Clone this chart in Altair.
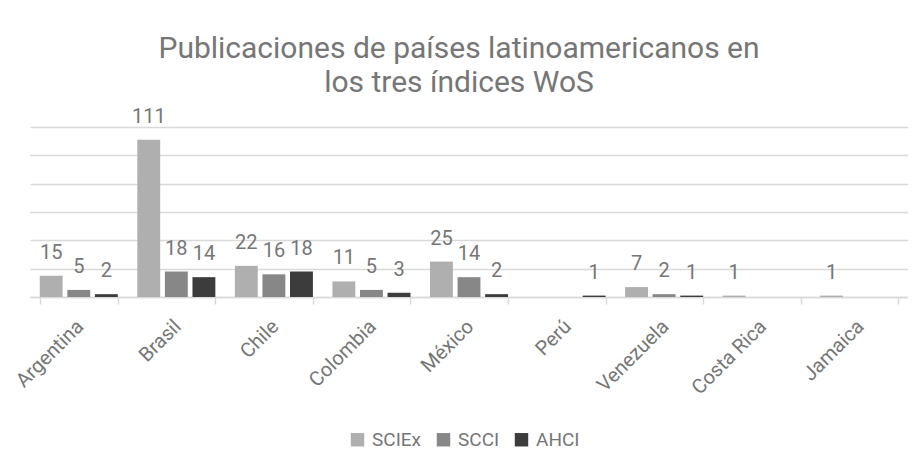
import altair as alt
import pandas as pd

paises = ["Argentina", "Brasil", "Chile", "Colombia", "México", "Perú", "Venezuela", "Costa Rica", "Jamaica"]
indices = ["SCIEx", "SCCI", "AHCI"]
sciex = [15, 111, 22, 11, 25, 0, 7, 1, 1]
scci = [5, 18, 16, 5, 14, 0, 2, 0, 0]
ahci = [2, 14, 18, 3, 2, 1, 1, 0, 0]
colores = ["#AFAFAF", "#878787", "#3C3C3C"]
titulo = ["Publicaciones de países latinoamericanos en", "los tres índices WoS"]
y_ticks = [0, 20, 40, 60, 80, 100, 120]

rows = []
for i, p in enumerate(paises):
    for idx, serie in zip(indices, [sciex, scci, ahci]):
        rows.append({"pais": p, "indice": idx, "valor": serie[i]})
df = pd.DataFrame(rows)

FONT = "Roboto"
TXT = "#767676"

x = alt.X("pais:N", sort=paises, title=None,
          scale=alt.Scale(paddingInner=0.2, paddingOuter=0.1),
          axis=alt.Axis(labelAngle=-45, labelFontSize=20, labelColor=TXT, labelFont=FONT,
                        domainColor="#D9D9D9", domainWidth=1.5, tickColor="#D9D9D9",
                        tickWidth=1.5, tickSize=7, tickBand="extent", labelPadding=12,
                        labelOffset=-6, grid=False))
xo = alt.XOffset("indice:N", sort=indices, scale=alt.Scale(paddingInner=0.17))
y = alt.Y("valor:Q", title=None, scale=alt.Scale(domain=[0, 120], nice=False),
          axis=alt.Axis(values=y_ticks, labels=False, ticks=False, domain=False,
                        gridColor="#D9D9D9", gridWidth=1.5))
color = alt.Color("indice:N", sort=indices,
                  scale=alt.Scale(domain=indices, range=colores),
                  legend=alt.Legend(title=None, orient="none", direction="horizontal",
                                    legendX=318, legendY=303, symbolType="square",
                                    symbolSize=180, symbolStrokeWidth=0, labelFontSize=19,
                                    labelColor=TXT, labelFont=FONT, columnPadding=12,
                                    labelOffset=5))

bars = alt.Chart(df).mark_bar().encode(x=x, xOffset=xo, y=y, color=color)
labels = alt.Chart(df).transform_filter("datum.valor > 0").mark_text(
    baseline="alphabetic", dy=-17, fontSize=20, color=TXT, font=FONT
).encode(x=x, xOffset=xo, y=y, text="valor:Q")

chart = alt.layer(bars, labels).properties(
    width=878, height=170,
    title=alt.TitleParams(titulo, fontSize=30, color=TXT, font=FONT, fontWeight="normal",
                          anchor="middle", offset=9, lineHeight=34, dx=-10),
    autosize=alt.AutoSizeParams(type="none"),
    padding={"left": 22, "top": 119, "right": 0, "bottom": 155},
).configure_view(stroke=None)

chart.save("out.html", embed_options={"renderer": "svg", "actions": False})
